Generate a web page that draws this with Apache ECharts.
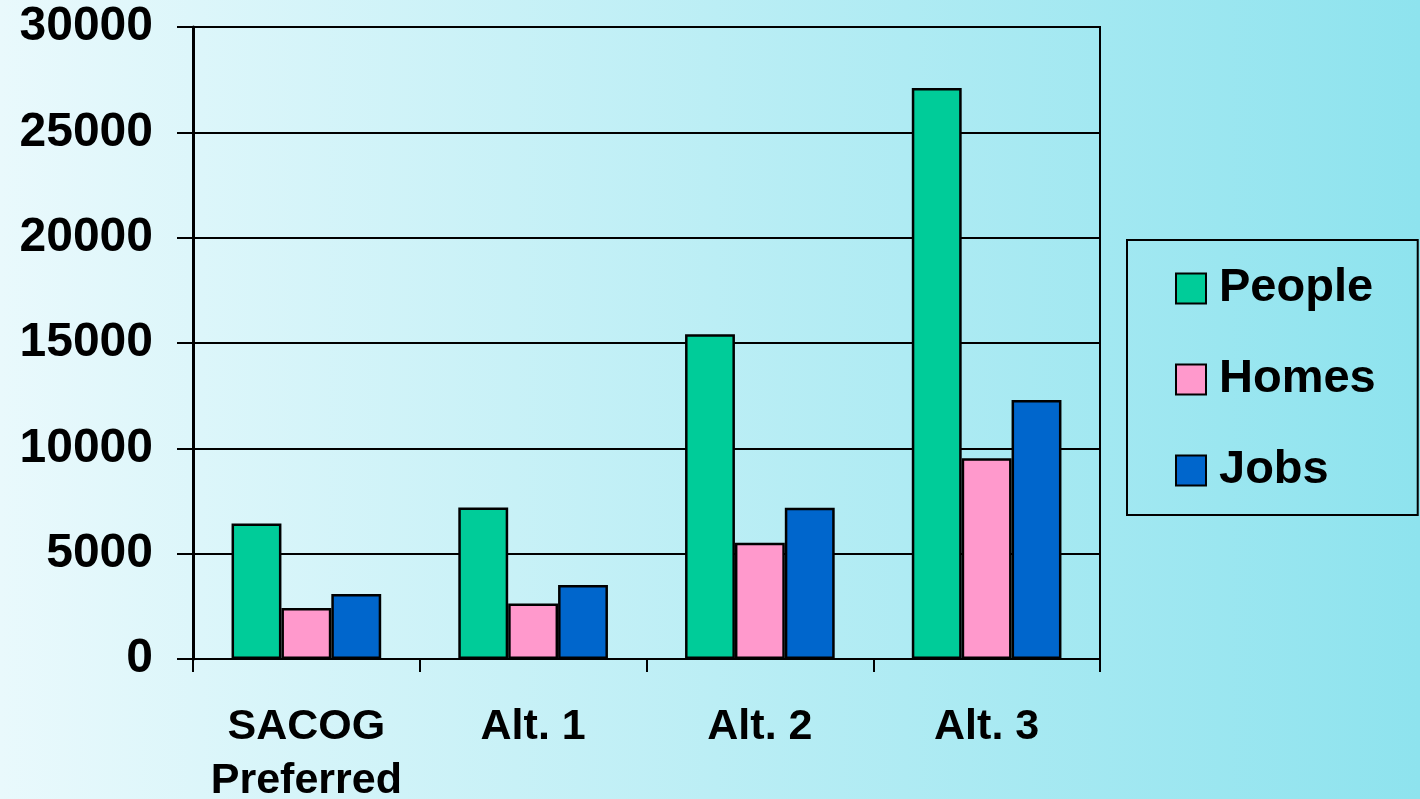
<!DOCTYPE html>
<html>
<head>
<meta charset="utf-8">
<script src="https://cdn.jsdelivr.net/npm/echarts@6/dist/echarts.min.js"></script>
<style>
html,body{margin:0;padding:0;}
#chart{width:1420px;height:799px;}
</style>
</head>
<body>
<div id="chart"></div>
<script>
const categories = ['SACOG\nPreferred', 'Alt. 1', 'Alt. 2', 'Alt. 3'];
const seriesNames = ['People', 'Homes', 'Jobs'];
const people = [6430, 7190, 15420, 27100];
const homes = [2420, 2630, 5520, 9530];
const jobs = [3090, 3510, 7180, 12290];
const yTicks = { min: 0, max: 30000, interval: 5000 };
const colors = ['#00CC99', '#FF99CC', '#0066CC'];

const chart = echarts.init(document.getElementById('chart'));
const font = 'Liberation Sans, Arial, sans-serif';
const values = [people, homes, jobs];

chart.setOption({
  animation: false,
  backgroundColor: {
    type: 'linear', x: 0, y: 0, x2: 1, y2: 0,
    colorStops: [
      { offset: 0, color: '#E9F9FC' },
      { offset: 1, color: '#8EE3EE' }
    ]
  },
  grid: {
    left: 193, right: 320, top: 27, bottom: 140,
    outerBoundsMode: 'none',
    containLabel: false,
    show: true, borderColor: '#000', borderWidth: 2,
    backgroundColor: 'transparent'
  },
  legend: {
    orient: 'vertical',
    left: 1127, top: 240,
    padding: [25, 42, 21, 48],
    borderColor: '#000', borderWidth: 2,
    itemWidth: 30, itemHeight: 30, itemGap: 44,
    icon: 'rect',
    itemStyle: { borderColor: '#000', borderWidth: 2 },
    textStyle: { fontFamily: font, fontWeight: 'bold', fontSize: 47, color: '#000', lineHeight: 46, padding: [0, 0, 0, 8] },
    data: seriesNames
  },
  xAxis: {
    type: 'category',
    data: categories,
    boundaryGap: true,
    axisLine: { lineStyle: { color: '#000', width: 2 } },
    axisTick: { show: true, interval: 0, length: 13, lineStyle: { color: '#000', width: 2 } },
    axisLabel: { interval: 0, fontFamily: font, fontWeight: 'bold', fontSize: 43, color: '#000', lineHeight: 54, margin: 41 }
  },
  yAxis: {
    type: 'value',
    min: yTicks.min, max: yTicks.max, interval: yTicks.interval,
    axisLine: { show: true, lineStyle: { color: '#000', width: 3 } },
    axisTick: { show: true, length: 16, lineStyle: { color: '#000', width: 2 } },
    splitLine: { show: true, lineStyle: { color: '#000', width: 2 } },
    axisLabel: { fontFamily: font, fontWeight: 'bold', fontSize: 48, color: '#000', margin: 40, formatter: v => String(v) }
  },
  series: seriesNames.map((name, i) => ({
    name: name,
    type: 'bar',
    data: values[i],
    barGap: '0%',
    barCategoryGap: '34%',
    itemStyle: { color: colors[i], borderColor: '#000', borderWidth: 2.5 }
  }))
});
</script>
</body>
</html>
